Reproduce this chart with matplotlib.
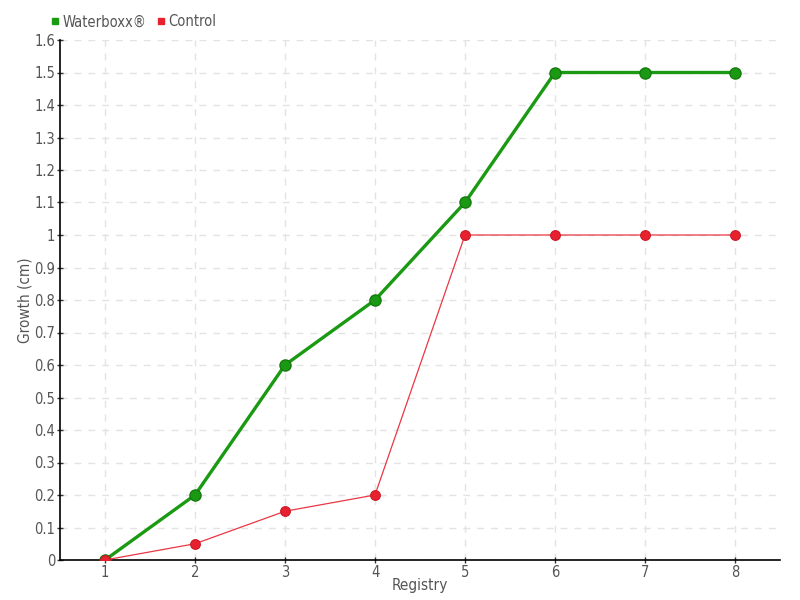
import matplotlib
matplotlib.use("Agg")
import matplotlib.pyplot as plt
from matplotlib.lines import Line2D

plt.rcParams.update({"font.family": ["DejaVu Sans"], "font.stretch": "condensed"})

registry = [1, 2, 3, 4, 5, 6, 7, 8]
waterboxx = [0, 0.2, 0.6, 0.8, 1.1, 1.5, 1.5, 1.5]
control = [0, 0.05, 0.15, 0.2, 1.0, 1.0, 1.0, 1.0]
yticks = [0, 0.1, 0.2, 0.3, 0.4, 0.5, 0.6, 0.7, 0.8, 0.9, 1, 1.1, 1.2, 1.3, 1.4, 1.5, 1.6]

GREEN = "#1a9a12"
RED = "#e8212f"
TXT = "#555555"

fig = plt.figure(figsize=(8, 6), dpi=100)
ax = fig.add_axes([60 / 800, 40 / 600, 720 / 800, 520 / 600])

ax.plot(registry, waterboxx, "-", color=GREEN, lw=2.4, zorder=3)
ax.plot(registry, waterboxx, "o", ms=8, color=GREEN, mec="#167a10", mew=1, zorder=4)
ax.plot(registry, control, "-", color=RED, lw=0.9, alpha=0.9, zorder=5)
ax.plot(registry, control, "o", ms=7, color=RED, mec="#c81a25", mew=0.8, zorder=6)

ax.set_xlim(0.5, 8.5)
ax.set_ylim(0, 1.6)
ax.set_xticks(registry)
ax.set_yticks(yticks)
ax.set_yticklabels([f"{v:g}" for v in yticks])
ax.tick_params(labelcolor=TXT, labelsize=10.5, length=4, direction="inout",
               width=1, color="#333333", pad=1.5)
ax.grid(True, ls=(0, (5, 5)), color="#e3e3e3", lw=1)
ax.set_axisbelow(True)
for s in ("top", "right"):
    ax.spines[s].set_visible(False)
for s in ("left", "bottom"):
    ax.spines[s].set_color("black")
    ax.spines[s].set_linewidth(1.2)

ax.set_xlabel("Registry", color=TXT, fontsize=11, labelpad=-1)
ax.set_ylabel("Growth (cm)", color=TXT, fontsize=11, labelpad=1)

handles = [Line2D([], [], ls="", marker="s", ms=4.5, color=GREEN),
           Line2D([], [], ls="", marker="s", ms=4.5, color=RED)]
fig.legend(handles, ["Waterboxx®", "Control"], loc="center left",
           bbox_to_anchor=(42 / 800, 1 - 22 / 600), ncol=2, frameon=False,
           fontsize=10.5, labelcolor=TXT, handletextpad=0.0, columnspacing=0.5,
           handlelength=1.0, borderaxespad=0)

fig.savefig("out.png", dpi=100)
